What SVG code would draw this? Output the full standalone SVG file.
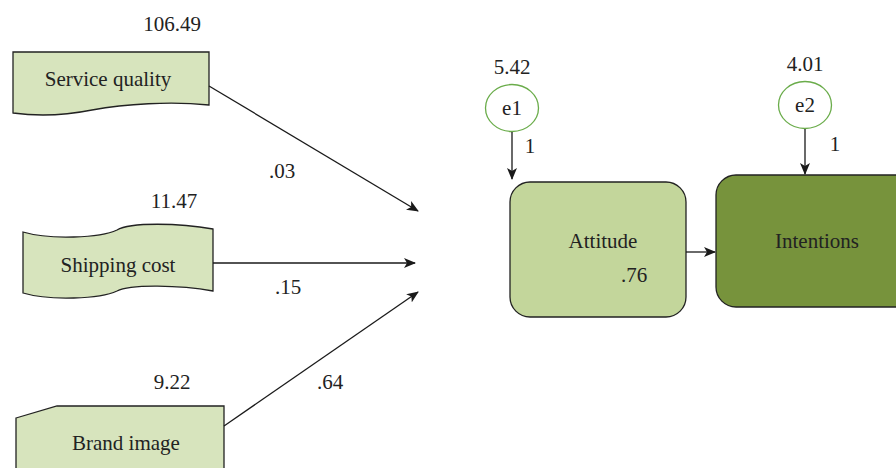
<svg xmlns="http://www.w3.org/2000/svg" width="896" height="468" viewBox="0 0 896 468">
  <defs>
    <marker id="arrow" viewBox="0 0 12 10" refX="11" refY="5" markerWidth="12" markerHeight="10" markerUnits="userSpaceOnUse" orient="auto">
      <path d="M0,0 L12,5 L0,10 L3,5 Z" fill="#1a1a1a"/>
    </marker>
    <style>
      text { font-size: 21px; fill: #222; }
      .mid { text-anchor: middle; }
      .obs { fill: #d7e4bd; stroke: #222; stroke-width: 1.3; }
      .att { fill: #c3d69b; stroke: #222; stroke-width: 1.3; }
      .int { fill: #77933c; stroke: #222; stroke-width: 1.3; }
      .err { fill: #ffffff; stroke: #6aac4a; stroke-width: 1.3; }
      .edge { fill: none; stroke: #1a1a1a; stroke-width: 1.3; marker-end: url(#arrow); }
    </style>
  </defs>

  <rect width="896" height="468" fill="#ffffff"/>

  <g font-family="'Liberation Serif', 'DejaVu Serif', serif">
  <!-- observed inputs -->
  <g id="service-quality">
    <path class="obs" d="M13,52 H209 V105 C170,101 125,104 92,110 C62,116 35,116 13,113 Z"/>
    <text class="mid" x="108" y="86">Service quality</text>
    <text class="mid" x="172" y="31">106.49</text>
  </g>

  <g id="shipping-cost">
    <path class="obs" d="M23,232 C50,240 100,238 117,230 C130,222 180,223 213,229 V291 C180,285 130,284 117,291 C100,299 50,301 23,293 Z"/>
    <text class="mid" x="118" y="272">Shipping cost</text>
    <text class="mid" x="174" y="208">11.47</text>
  </g>

  <g id="brand-image">
    <path class="obs" d="M16,418 L57,406 H224 V470 H16 Z"/>
    <text class="mid" x="126" y="450">Brand image</text>
    <text class="mid" x="172" y="389">9.22</text>
  </g>

  <!-- error terms -->
  <g id="e1">
    <ellipse class="err" cx="512" cy="108" rx="26.5" ry="23.5"/>
    <text class="mid" x="512" y="115">e1</text>
    <text class="mid" x="512" y="74">5.42</text>
  </g>

  <g id="e2">
    <ellipse class="err" cx="805" cy="105" rx="26.5" ry="23.5"/>
    <text class="mid" x="805" y="112">e2</text>
    <text class="mid" x="805" y="71">4.01</text>
  </g>

  <!-- latent constructs -->
  <g id="attitude">
    <rect class="att" x="510" y="182" width="176" height="135" rx="20" ry="20"/>
    <text class="mid" x="603" y="248">Attitude</text>
    <text class="mid" x="634" y="282">.76</text>
  </g>

  <g id="intentions">
    <rect class="int" x="716" y="175" width="200" height="132" rx="20" ry="20"/>
    <text class="mid" x="817" y="248">Intentions</text>
  </g>

  <!-- paths -->
  <g id="connectors">
    <line class="edge" x1="209" y1="86" x2="418" y2="211"/>
    <line class="edge" x1="213" y1="263" x2="415" y2="263"/>
    <line class="edge" x1="224" y1="426" x2="418" y2="292"/>
    <line class="edge" x1="512" y1="132" x2="512" y2="179"/>
    <line class="edge" x1="805" y1="129" x2="805" y2="174"/>
    <line class="edge" x1="686" y1="252" x2="715" y2="252"/>
    <text class="mid" x="282" y="178">.03</text>
    <text class="mid" x="288" y="294">.15</text>
    <text class="mid" x="330" y="389">.64</text>
    <text class="mid" x="530" y="153">1</text>
    <text class="mid" x="835" y="151">1</text>
  </g>
  </g>
</svg>
